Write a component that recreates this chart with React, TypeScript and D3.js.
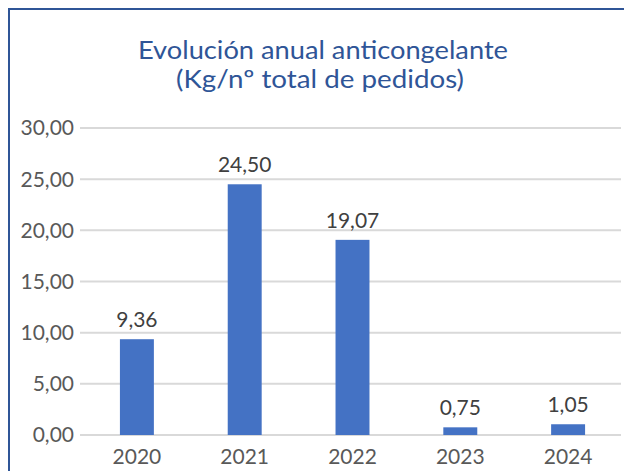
import React from "react";
import * as d3 from "d3";

const years = ["2020", "2021", "2022", "2023", "2024"];
const values = [9.36, 24.5, 19.07, 0.75, 1.05];
const yTicks = [0, 5, 10, 15, 20, 25, 30];
const titleLines = ["Evolución anual anticongelante", "(Kg/nº total de pedidos)"];
const titleWidths = [370, 288];

const width = 624;
const height = 471;
const margin = { top: 128, right: 2, bottom: 36, left: 83 };
const font = "Lato, 'Noto Sans', sans-serif";

const fmt = (v: number) => v.toFixed(2).replace(".", ",");

export default function App() {
  const x = d3
    .scaleBand()
    .domain(years)
    .range([margin.left, width - margin.right])
    .paddingInner(0.685)
    .paddingOuter(0.3425);
  const y = d3
    .scaleLinear()
    .domain([0, 30])
    .range([height - margin.bottom, margin.top]);

  return (
    <svg
      width={width}
      height={height}
      style={{ position: "absolute", left: 0, top: 0, background: "#fff" }}
    >
      <rect x={9} y={9} width={width + 10} height={height + 10} fill="none" stroke="#2f5597" strokeWidth={2} />
      {titleLines.map((t, i) => (
        <text
          key={i}
          x={i === 0 ? 323 : 320}
          y={59 + i * 29}
          textAnchor="middle"
          fontFamily={font}
          fontSize={25}
          fill="#2f5597"
          textLength={titleWidths[i]}
          lengthAdjust="spacingAndGlyphs"
        >
          {t}
        </text>
      ))}
      {yTicks.map((t) => (
        <g key={t}>
          <line
            x1={80}
            x2={621}
            y1={y(t)}
            y2={y(t)}
            stroke="#d9d9d9"
            strokeWidth={2}
          />
          <text
            x={74}
            y={y(t)}
            dy="0.35em"
            textAnchor="end"
            fontFamily={font}
            fontSize={21}
            fill="#595959"
          >
            {fmt(t)}
          </text>
        </g>
      ))}
      {years.map((yr, i) => (
        <g key={yr}>
          <rect
            x={x(yr)}
            y={y(values[i])}
            width={x.bandwidth()}
            height={y(0) - y(values[i])}
            fill="#4472c4"
          />
          <text
            x={(x(yr) as number) + x.bandwidth() / 2}
            y={y(values[i]) - 12}
            textAnchor="middle"
            fontFamily={font}
            fontSize={21}
            fill="#404040"
          >
            {fmt(values[i])}
          </text>
          <text
            x={(x(yr) as number) + x.bandwidth() / 2}
            y={464}
            textAnchor="middle"
            fontFamily={font}
            fontSize={21}
            fill="#595959"
          >
            {yr}
          </text>
        </g>
      ))}
    </svg>
  );
}
